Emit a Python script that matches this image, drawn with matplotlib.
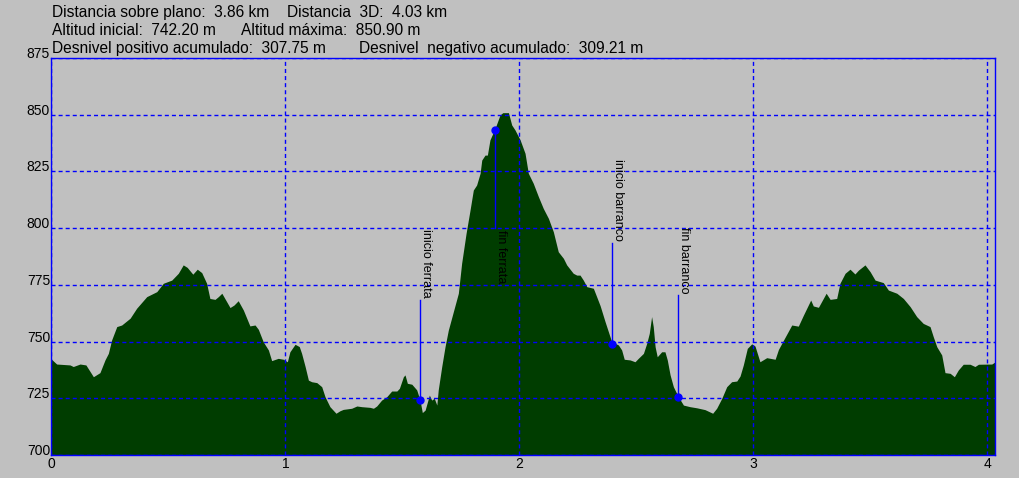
import matplotlib
matplotlib.use('Agg')
from matplotlib import pyplot as plt

# Perfil de elevación (km, m)
DISTANCIA = [0.000, 0.022, 0.079, 0.093, 0.122, 0.147, 0.179, 0.207, 0.229, 0.243,
             0.257, 0.279, 0.300, 0.336, 0.364, 0.407, 0.450, 0.478, 0.514, 0.542,
             0.563, 0.580, 0.604, 0.623, 0.642, 0.663, 0.677, 0.699, 0.713, 0.728,
             0.763, 0.780, 0.798, 0.820, 0.848, 0.870, 0.884, 0.905, 0.927, 0.941,
             0.969, 0.991, 1.008, 1.019, 1.041, 1.059, 1.069, 1.084, 1.098, 1.112,
             1.134, 1.155, 1.169, 1.190, 1.216, 1.233, 1.247, 1.283, 1.305, 1.326,
             1.361, 1.376, 1.390, 1.411, 1.433, 1.454, 1.476, 1.487, 1.504, 1.511,
             1.521, 1.540, 1.561, 1.575, 1.585, 1.597, 1.615, 1.625, 1.636, 1.647,
             1.653, 1.668, 1.682, 1.696, 1.739, 1.753, 1.772, 1.789, 1.803, 1.817,
             1.832, 1.839, 1.853, 1.863, 1.874, 1.896, 1.917, 1.929, 1.953, 1.967,
             1.981, 2.003, 2.024, 2.038, 2.059, 2.081, 2.102, 2.124, 2.145, 2.166,
             2.188, 2.202, 2.230, 2.245, 2.259, 2.273, 2.288, 2.316, 2.330, 2.345,
             2.366, 2.380, 2.394, 2.423, 2.437, 2.448, 2.473, 2.494, 2.508, 2.530,
             2.544, 2.555, 2.565, 2.572, 2.580, 2.589, 2.608, 2.622, 2.632, 2.644,
             2.658, 2.679, 2.701, 2.729, 2.758, 2.793, 2.826, 2.843, 2.865, 2.886,
             2.907, 2.929, 2.943, 2.957, 2.974, 2.993, 3.007, 3.028, 3.057, 3.093,
             3.107, 3.128, 3.164, 3.192, 3.214, 3.245, 3.256, 3.278, 3.311, 3.328,
             3.356, 3.370, 3.392, 3.413, 3.434, 3.449, 3.477, 3.499, 3.520, 3.555,
             3.577, 3.613, 3.641, 3.670, 3.698, 3.726, 3.755, 3.769, 3.784, 3.805,
             3.819, 3.841, 3.859, 3.876, 3.897, 3.926, 3.947, 3.962, 4.019, 4.034]
ALTITUD = [742.2, 740.1, 739.7, 739.0, 740.1, 739.7, 734.5, 736.3, 742.0, 744.8,
           750.7, 756.6, 757.3, 760.3, 764.7, 769.8, 772.0, 775.7, 777.1, 780.1,
           783.8, 782.7, 779.7, 781.9, 780.4, 775.7, 769.0, 768.6, 769.8, 771.3,
           765.0, 766.1, 768.0, 763.9, 756.9, 757.3, 755.4, 749.9, 746.3, 741.6,
           742.6, 742.2, 741.1, 745.5, 748.8, 747.8, 744.8, 739.0, 733.0, 732.3,
           731.9, 730.1, 725.7, 721.3, 718.4, 719.5, 720.1, 720.6, 721.6, 721.3,
           721.0, 720.6, 721.6, 724.2, 725.7, 728.2, 728.2, 729.4, 734.5, 735.3,
           731.6, 731.2, 728.7, 724.2, 718.7, 719.8, 726.4, 724.2, 725.0, 722.0,
           728.7, 739.0, 747.7, 755.0, 771.3, 784.5, 797.7, 808.0, 816.8, 819.0,
           824.2, 830.0, 832.2, 832.2, 838.9, 844.0, 849.9, 850.9, 850.9, 845.5,
           843.3, 838.9, 833.0, 824.2, 819.8, 813.9, 808.7, 804.3, 798.4, 789.6,
           786.7, 783.8, 780.1, 779.3, 779.3, 777.1, 774.2, 773.5, 769.8, 765.8,
           758.8, 754.4, 750.0, 748.5, 746.3, 742.2, 741.9, 741.1, 742.6, 744.8,
           749.2, 753.6, 761.0, 756.6, 747.7, 743.3, 745.5, 745.5, 741.9, 735.3,
           730.1, 725.7, 722.0, 721.3, 720.8, 720.0, 718.4, 720.6, 725.0, 730.1,
           732.3, 732.6, 734.8, 739.7, 747.0, 749.0, 748.0, 741.1, 742.9, 742.2,
           746.5, 750.5, 757.3, 756.8, 761.7, 768.3, 765.7, 765.1, 771.3, 768.6,
           769.0, 775.7, 780.1, 781.9, 779.8, 781.5, 783.8, 780.8, 777.1, 776.0,
           772.7, 771.3, 769.0, 765.4, 761.0, 758.0, 756.6, 752.1, 747.7, 744.1,
           736.3, 736.0, 734.5, 737.5, 740.0, 740.0, 739.0, 740.0, 740.1, 741.1]

# Puntos de paso
WPT_NOMBRE = ['inicio ferrata', 'fin ferrata', 'inicio barranco', 'fin barranco']
WPT_DIST = [1.575, 1.896, 2.394, 2.679]
WPT_ALT = [724.2, 843.3, 749.0, 725.4]
WPT_FIN_LINEA = [768.5, 800.0, 793.5, 770.5]

CABECERA = [('Distancia sobre plano:  3.86 km', 'Distancia  3D:  4.03 km'),
            ('Altitud inicial:  742.20 m', 'Altitud máxima:  850.90 m'),
            ('Desnivel positivo acumulado:  307.75 m', 'Desnivel  negativo acumulado:  309.21 m')]

X_TICKS = [0, 1, 2, 3, 4]
Y_TICKS = [700, 725, 750, 775, 800, 825, 850, 875]

GRIS = '#c0c0c0'
VERDE = '#003d00'
AZUL = '#0000ff'

plt.rcParams['font.family'] = ['Liberation Sans', 'DejaVu Sans']
plt.rcParams['lines.scale_dashes'] = False

W, H = 1020, 478
fig = plt.figure(figsize=(W / 100, H / 100), dpi=100)
fig.set_facecolor(GRIS)
ax = fig.add_axes([51.5 / W, 1 - 455 / H, (995.3 - 51.5) / W, (455 - 58) / H])
ax.set_facecolor(GRIS)

ax.fill_between(DISTANCIA, ALTITUD, 700, color=VERDE, lw=0, zorder=1)

ax.set_xlim(0, 4.034)
ax.set_ylim(700, 875)
ax.set_xticks(X_TICKS)
ax.set_yticks(Y_TICKS)
ax.tick_params(length=0, labelsize=10, labelcolor='black')
ax.tick_params(axis='x', pad=1.5)
ax.tick_params(axis='y', pad=1)
for lab in ax.get_yticklabels():
    lab.set_va('baseline')

# Rejilla azul discontinua por encima del relleno
for eje in (ax.xaxis, ax.yaxis):
    eje.grid(True, color=AZUL, lw=1.0, linestyle=(0, (2.9, 2.2)))
ax.set_axisbelow(False)
for sp in ax.spines.values():
    sp.set_color(AZUL)
    sp.set_linewidth(1.0)
    sp.set_zorder(4)

# Líneas, marcadores y etiquetas verticales de los puntos de paso
for nombre, d, alt, fin in zip(WPT_NOMBRE, WPT_DIST, WPT_ALT, WPT_FIN_LINEA):
    ax.plot([d, d], [alt, fin], color=AZUL, lw=1.0, zorder=3)
    ax.plot(d, alt, 'o', color=AZUL, ms=5, zorder=3)
    if fin > alt:
        ax.text(d, fin + 0.8, nombre, rotation=-90, ha='left', va='bottom',
                fontsize=9, zorder=3)
    else:
        ax.text(d, fin - 1.0, nombre, rotation=-90, ha='left', va='top',
                fontsize=9, zorder=3)

# Cabecera con los datos del recorrido
x_col2 = [287, 241, 359]
y_base = [17, 35, 53]
for (izq, der), x2, yb in zip(CABECERA, x_col2, y_base):
    fig.text(52 / W, 1 - yb / H, izq, fontsize=11.2, va='baseline', ha='left')
    fig.text(x2 / W, 1 - yb / H, der, fontsize=11.2, va='baseline', ha='left')

fig.savefig('out.png', dpi=100, facecolor=GRIS)
